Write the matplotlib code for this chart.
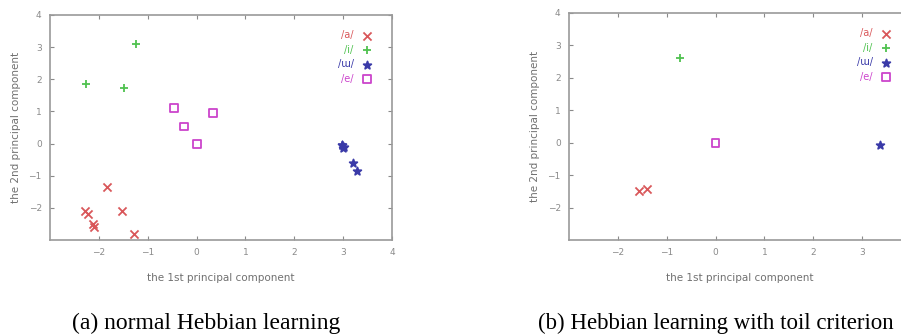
import numpy as np
import matplotlib.pyplot as plt

# data
vowels = ['/a/', '/i/', '/ɯ/', '/e/']
colors = ['#d9575a', '#4fc24f', '#3a3aa8', '#cc44cc']
markers = ['x', '+', '*', 's']

# (a) normal Hebbian learning
a_x = {
    '/a/': [-1.83, -2.29, -2.22, -2.1, -2.13, -1.53, -1.28],
    '/i/': [-2.27, -1.24, -1.48],
    '/ɯ/': [2.98, 3.02, 3.0, 2.97, 3.2, 3.28],
    '/e/': [-0.47, -0.25, 0.0, 0.33],
}
a_y = {
    '/a/': [-1.35, -2.1, -2.2, -2.6, -2.5, -2.1, -2.82],
    '/i/': [1.85, 3.1, 1.72],
    '/ɯ/': [-0.05, -0.1, -0.14, -0.03, -0.6, -0.85],
    '/e/': [1.1, 0.53, 0.0, 0.96],
}

# (b) Hebbian learning with toil criterion
b_x = {'/a/': [-1.57, -1.4], '/i/': [-0.72], '/ɯ/': [3.36], '/e/': [0.0]}
b_y = {'/a/': [-1.5, -1.43], '/i/': [2.6], '/ɯ/': [-0.08], '/e/': [0.0]}

xticks = [-2, -1, 0, 1, 2, 3, 4]
yticks = [-2, -1, 0, 1, 2, 3, 4]

captions = ['(a) normal Hebbian learning', '(b) Hebbian learning with toil criterion']

fig = plt.figure(figsize=(9.01, 3.34), dpi=100)
gray = '#8a8a8a'

ax_a = fig.add_axes([0.0555, 0.2814, 0.3796, 0.6737])
ax_b = fig.add_axes([0.6315, 0.2814, 0.3796, 0.680])

for ax, xs, ys in [(ax_a, a_x, a_y), (ax_b, b_x, b_y)]:
    for v, c, m in zip(vowels, colors, markers):
        if m == 's':
            ax.scatter(xs[v], ys[v], marker=m, s=32, facecolors='none',
                       edgecolors=c, linewidths=1.3, label=v)
        else:
            ax.scatter(xs[v], ys[v], marker=m, s=34, color=c,
                       linewidths=1.3, label=v)
    ax.set_xlim(-3, 4)
    ax.set_ylim(-3, 4)
    ax.set_xticks(xticks)
    ax.set_yticks(yticks)
    ax.tick_params(direction='in', top=True, right=True, length=3,
                   labelsize=6.5, colors=gray, pad=6)
    for sp in ax.spines.values():
        sp.set_color('#9a9a9a')
        sp.set_linewidth(1.2)
    ax.set_xlabel('the 1st principal component', fontsize=7.5, color='#707070', labelpad=11)
    ax.set_ylabel('the 2nd principal component', fontsize=7.5, color='#707070', labelpad=5)
    leg = ax.legend(loc='upper right', bbox_to_anchor=(0.97, 0.97), frameon=False,
                    markerfirst=False, fontsize=7, handlelength=1.2,
                    handletextpad=0.8, labelspacing=0.45, scatterpoints=1)
    for t, c in zip(leg.get_texts(), colors):
        t.set_color(c)

# the right panel runs past the image edge, so its last x label is not shown
ax_b.set_xticklabels([str(t).replace('-', '\u2212') if t < 4 else '' for t in xticks])

fig.text(206 / 901, 1 - 323 / 334, captions[0], family='Liberation Serif',
         fontsize=17, ha='center', va='center')
fig.text(538 / 901, 1 - 323 / 334, captions[1], family='Liberation Serif',
         fontsize=16.5, ha='left', va='center')

fig.savefig('out.png', dpi=100)
